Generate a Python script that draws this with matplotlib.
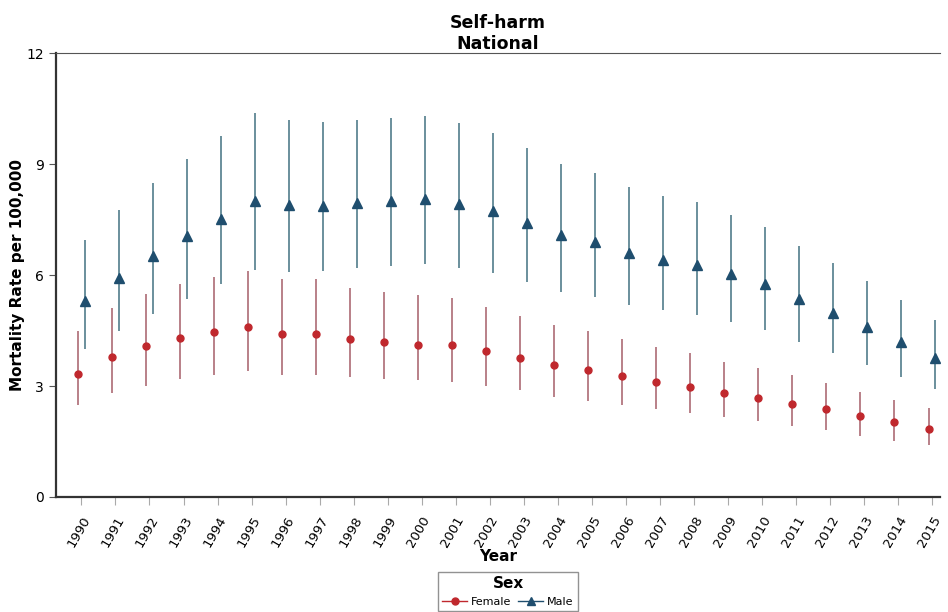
import numpy as np
import matplotlib
matplotlib.use("Agg")
import matplotlib.pyplot as plt
from matplotlib.lines import Line2D

years = list(range(1990, 2016))

female_rate = [3.33, 3.78, 4.07, 4.30, 4.45, 4.60, 4.40, 4.42, 4.28, 4.18, 4.12, 4.10, 3.95,
               3.75, 3.57, 3.43, 3.27, 3.10, 2.98, 2.80, 2.68, 2.52, 2.37, 2.20, 2.02, 1.83]
female_low = [2.50, 2.80, 3.00, 3.20, 3.30, 3.40, 3.30, 3.30, 3.25, 3.20, 3.15, 3.10, 3.00,
              2.88, 2.70, 2.60, 2.50, 2.38, 2.28, 2.15, 2.05, 1.92, 1.80, 1.65, 1.52, 1.40]
female_high = [4.50, 5.10, 5.50, 5.75, 5.95, 6.10, 5.90, 5.90, 5.65, 5.55, 5.45, 5.38, 5.15,
               4.90, 4.65, 4.48, 4.27, 4.05, 3.90, 3.65, 3.50, 3.30, 3.08, 2.85, 2.62, 2.40]

male_rate = [5.30, 5.92, 6.52, 7.05, 7.52, 8.00, 7.90, 7.88, 7.95, 8.00, 8.05, 7.92, 7.72,
             7.42, 7.08, 6.90, 6.60, 6.42, 6.28, 6.02, 5.75, 5.35, 4.98, 4.60, 4.18, 3.75]
male_low = [4.00, 4.50, 4.95, 5.35, 5.75, 6.15, 6.08, 6.10, 6.20, 6.25, 6.30, 6.20, 6.05,
            5.80, 5.55, 5.40, 5.20, 5.05, 4.92, 4.72, 4.52, 4.18, 3.88, 3.58, 3.25, 2.92]
male_high = [6.95, 7.75, 8.50, 9.15, 9.75, 10.38, 10.20, 10.15, 10.20, 10.25, 10.30, 10.10, 9.85,
             9.45, 9.00, 8.75, 8.38, 8.15, 7.98, 7.62, 7.30, 6.80, 6.32, 5.85, 5.32, 4.78]

female_col = "#c0282d"
female_bar = "#b98088"
male_col = "#1f4e6e"
male_bar = "#6a8f9c"

fig = plt.figure(figsize=(9.48, 6.12), dpi=100)
ax = fig.add_axes([0.059, 0.188, 0.933, 0.725])

x = np.array(years, dtype=float)
dodge = 0.1

ax.vlines(x - dodge, female_low, female_high, color=female_bar, linewidth=1.4)
ax.plot(x - dodge, female_rate, 'o', color=female_col, markersize=5)
ax.vlines(x + dodge, male_low, male_high, color=male_bar, linewidth=1.4)
ax.plot(x + dodge, male_rate, '^', color=male_col, markersize=6.5)

ax.set_xlim(1989.25, 2015.25)
ax.set_ylim(0, 12)
ax.set_yticks([0, 3, 6, 9, 12])
ax.set_xticks(years)
ax.set_xticklabels([str(y) for y in years], rotation=60, ha='right',
                   rotation_mode='anchor', fontsize=9.5)
ax.tick_params(axis='y', labelsize=10, length=5, color='#555555')
ax.tick_params(axis='x', length=6, pad=6, color='#aaaaaa')

ax.spines['left'].set_linewidth(1.6)
ax.spines['left'].set_color('#333333')
ax.spines['bottom'].set_linewidth(1.6)
ax.spines['bottom'].set_color('#333333')
ax.spines['top'].set_linewidth(0.8)
ax.spines['top'].set_color('#555555')
ax.spines['right'].set_visible(False)

ax.set_xlabel('Year', fontsize=11, fontweight='bold', labelpad=0)
ax.set_ylabel('Mortality Rate per 100,000', fontsize=11, fontweight='bold', labelpad=1)
ax.set_title('Self-harm\nNational', fontsize=12.5, fontweight='bold', pad=2)

handles = [
    Line2D([0], [0], color=female_col, marker='o', markersize=5, linewidth=1, label='Female'),
    Line2D([0], [0], color=male_col, marker='^', markersize=6, linewidth=1, label='Male'),
]
leg = fig.legend(handles=handles, loc='upper center', bbox_to_anchor=(0.536, 0.066),
                 ncol=2, title='Sex', fontsize=8, frameon=True, fancybox=False,
                 handlelength=2.2, columnspacing=0.6, handletextpad=0.4,
                 edgecolor='#777777', borderaxespad=0)
leg.get_title().set_fontweight('bold')
leg.get_title().set_fontsize(11)

fig.savefig('out.png', dpi=100)
